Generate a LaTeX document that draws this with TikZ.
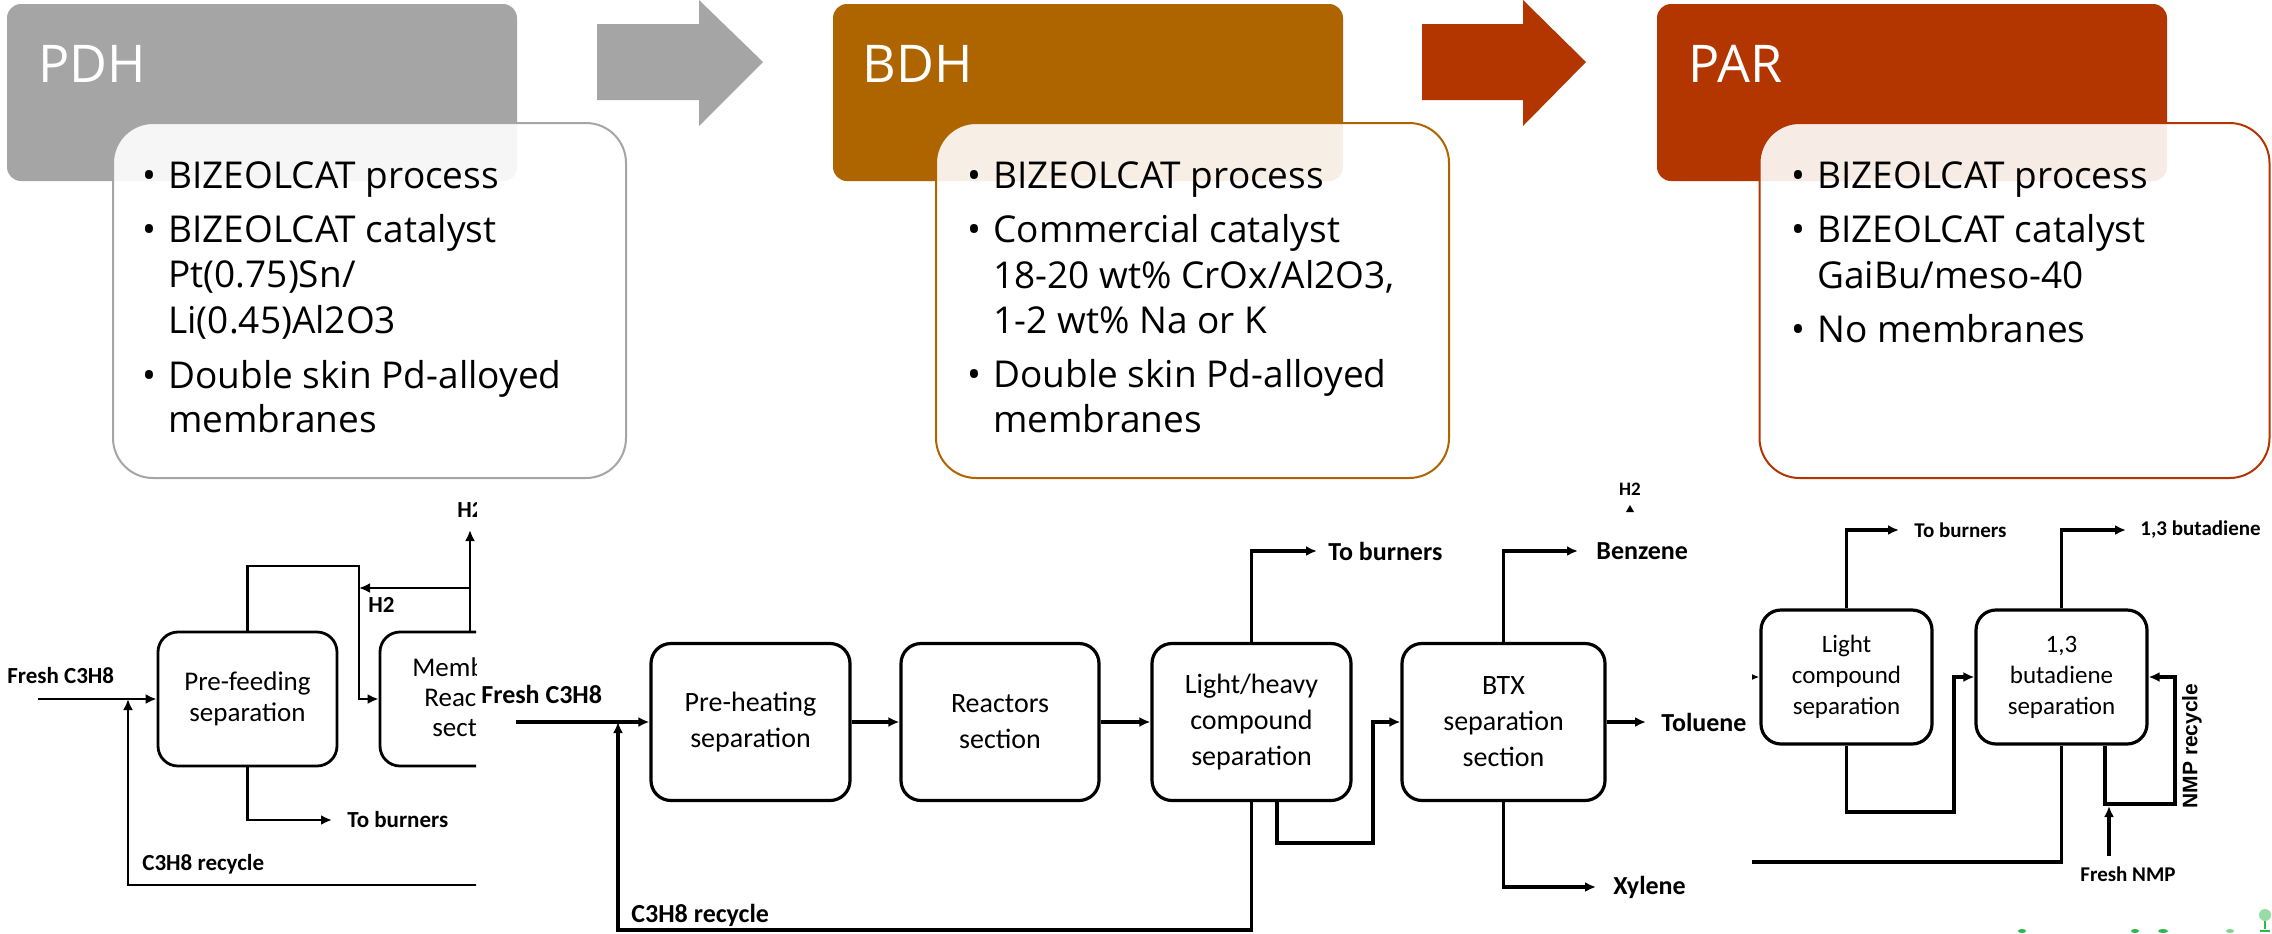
\documentclass[tikz,border=0pt]{standalone}
\usepackage{fontspec}
\setmainfont{Open Sans}
\newfontfamily\calfont{Carlito}
\newfontfamily\arialfont{Liberation Sans}
\usetikzlibrary{arrows.meta}
\definecolor{pdhgray}{HTML}{A5A5A5}
\definecolor{bdhbrown}{HTML}{AE6500}
\definecolor{parred}{HTML}{B33500}
\definecolor{logogreen}{HTML}{2DB84A}
\newcommand\fsoneb{\calfont\fontsize{13.5}{15.5}\selectfont}
\newcommand\fsonel{\calfont\bfseries\fontsize{11.5}{13}\selectfont}
\newcommand\fstwob{\calfont\fontsize{14}{18}\selectfont}
\newcommand\fstwol{\calfont\bfseries\fontsize{13}{15}\selectfont}
\newcommand\fsthrb{\calfont\fontsize{12.5}{15.5}\selectfont}
\newcommand\fsthrl{\calfont\bfseries\fontsize{10.5}{12}\selectfont}
\newcommand\bul{\llap{\textbullet\hspace{6pt}}}
\tikzset{
  hdr/.style={minimum width=255pt, minimum height=88.5pt, rounded corners=7pt, inner sep=0pt},
  cbox/.style={minimum width=256.5pt, minimum height=177.5pt, rounded corners=20pt, fill=white, fill opacity=0.9, line width=1pt, inner sep=0pt},
  hdrtxt/.style={anchor=base west, inner sep=0pt, text=white, font=\fontsize{26}{30}\selectfont},
  txt/.style={anchor=base west, inner sep=0pt, font=\fontsize{18.5}{22}\selectfont},
  fl/.style={line width=1.6pt},
  arr/.style={fl, -{Latex[length=5.5pt,width=5pt]}},
  pbox/.style={draw, line width=1.6pt, rounded corners=10pt, align=center, inner sep=0pt},
  lab/.style={inner sep=0pt},
}
\begin{document}
\begin{tikzpicture}[x=0.5pt,y=-0.5pt]
\useasboundingbox (0,0) rectangle (2272,933);
\fill[white] (0,0) rectangle (2272,933);

% ---------------- top section ----------------
\node[hdr, fill=pdhgray] (pdh) at (262,92.5) {};
\node[hdr, fill=bdhbrown] (bdh) at (1088,92.5) {};
\node[hdr, fill=parred] (par) at (1912,92.5) {};
\fill[pdhgray] (597,24) -- (699,24) -- (699,0) -- (763,62) -- (699,126) -- (699,100) -- (597,100) -- cycle;
\fill[parred] (1422,24) -- (1523,24) -- (1523,0) -- (1586,62) -- (1523,126) -- (1523,100) -- (1422,100) -- cycle;
\node[hdrtxt] (pdht) at (38,82) {PDH};
\node[hdrtxt] (bdht) at (862,82) {BDH};
\node[hdrtxt] (part) at (1688,82) {PAR};

\node[cbox, draw=pdhgray] (pdhbox) at (369.5,300.5) {};
\node[cbox, draw=bdhbrown] (bdhbox) at (1192.5,300.5) {};
\node[cbox, draw=parred, minimum width=255pt] (parbox) at (2014.5,300.5) {};

\node[txt] (p1) at (168,188) {\bul BIZEOLCAT process};
\node[txt] (p2) at (168,242) {\bul BIZEOLCAT catalyst};
\node[txt] (p3) at (168,287) {Pt(0.75)Sn/};
\node[txt] (p4) at (168,333) {Li(0.45)Al2O3};
\node[txt] (p5) at (168,388) {\bul Double skin Pd-alloyed};
\node[txt] (p6) at (168,432) {membranes};

\node[txt] (b1t) at (993,188) {\bul BIZEOLCAT process};
\node[txt] (b2t) at (993,242) {\bul Commercial catalyst};
\node[txt] (b3t) at (993,288) {18-20 wt\% CrOx/Al2O3,};
\node[txt] (b4t) at (993,333) {1-2 wt\% Na or K};
\node[txt] (b5t) at (993,387) {\bul Double skin Pd-alloyed};
\node[txt] (b6t) at (993,432) {membranes};

\node[txt] (r1t) at (1817,188) {\bul BIZEOLCAT process};
\node[txt] (r2t) at (1817,242) {\bul BIZEOLCAT catalyst};
\node[txt] (r3t) at (1817,288) {GaiBu/meso-40};
\node[txt] (r4t) at (1817,342) {\bul No membranes};

% ---------------- flowsheet 1 (PDH) ----------------
\begin{scope}
\clip (0,480) rectangle (476,933);
\tikzset{fl/.style={line width=1.4pt}}
\node[pbox, line width=1.4pt, minimum width=89.5pt, minimum height=67pt, font=\fsoneb] (pf) at (247.5,699) {Pre-feeding\\separation};
\node[pbox, line width=1.4pt, minimum width=82.5pt, minimum height=67pt] (mem) at (462.5,699) {};
\node[lab, font=\fsoneb, anchor=base west] (mem1) at (412,676) {Memb};
\node[lab, font=\fsoneb, anchor=base west] (mem2) at (424,706) {Reac};
\node[lab, font=\fsoneb, anchor=base west] (mem3) at (432,736) {sect};
\coordinate (f1in) at (38,699);
\coordinate (j1) at (128,699);
\coordinate (r1a) at (128,885);
\coordinate (r1b) at (480,885);
\draw[arr] (f1in) -- (pf.west);
\draw[arr] (r1b) -- (r1a) -- (j1);
\node[lab, font=\fsonel, anchor=base west] (fresh1) at (7,683) {Fresh C3H8};
\node[lab, font=\fsonel, anchor=base west] (rec1) at (142,870) {C3H8 recycle};
\coordinate (t1a) at (247.5,566);
\coordinate (t1b) at (359,566);
\draw[arr] (pf.north) -- (t1a) -- (t1b) |- (mem.west);
\coordinate (h2s) at (470,588);
\coordinate (h2e) at (359,588);
\draw[arr] (h2s) -- (h2e);
\node[lab, font=\fsonel, anchor=base west] (h2l) at (368,612) {H2};
\coordinate (h2top) at (470,530);
\draw[arr] (mem.north -| h2top) -- (h2top);
\node[lab, font=\fsonel, anchor=base west] (h2tl) at (457,517) {H2};
\coordinate (tb1) at (332,820);
\draw[arr] (pf.south) |- (tb1);
\node[lab, font=\fsonel, anchor=west] (tb1l) at (347,820) {To burners};
\end{scope}

% ---------------- flowsheet 2 (BDH) ----------------
\node[pbox, minimum width=99.5pt, minimum height=78.5pt, font=\fstwob] (b1) at (750.5,722) {Pre-heating\\separation};
\node[pbox, minimum width=99pt, minimum height=78.5pt, font=\fstwob] (b2) at (1000,722) {Reactors\\section};
\node[pbox, minimum width=99.5pt, minimum height=78.5pt, font=\fstwob] (b3) at (1251.5,722) {Light/heavy\\compound\\separation};
\node[pbox, minimum width=101.5pt, minimum height=78.5pt, font=\fstwob] (btx) at (1503.5,722) {BTX\\separation\\section};
\coordinate (f2in) at (516,722);
\coordinate (j2) at (618,722);
\draw[arr] (f2in) -- (b1.west);
\node[lab, font=\fstwol, anchor=base west] (fresh2) at (481,703) {Fresh C3H8};
\coordinate (r2a) at (1251.5,930);
\coordinate (r2b) at (618,930);
\draw[arr] (b3.south) -- (r2a) -- (r2b) -- (j2);
\node[lab, font=\fstwol, anchor=base west] (rec2) at (631,922) {C3H8 recycle};
\draw[arr] (b1.east) -- (b2.west);
\draw[arr] (b2.east) -- (b3.west);
\coordinate (tb2) at (1317,551);
\draw[arr] (b3.north) |- (tb2);
\node[lab, font=\fstwol, anchor=west] (tb2l) at (1328,551) {To burners};
\coordinate (c3a) at (1277,843);
\coordinate (c3b) at (1373,843);
\draw[arr] (b3.south -| c3a) -- (c3a) -- (c3b) |- (btx.west);
\coordinate (bz) at (1578,551);
\draw[arr] (btx.north) |- (bz);
\node[lab, font=\fstwol, anchor=west] (bzl) at (1596,551) {Benzene};
\coordinate (tol) at (1646,722);
\draw[arr] (btx.east) -- (tol);
\node[lab, font=\fstwol, anchor=west] (toll) at (1661,722) {Toluene};
\coordinate (xy) at (1596,887);
\draw[arr] (btx.south) |- (xy);
\node[lab, font=\fstwol, anchor=west] (xyl) at (1613,887) {Xylene};
\node[lab, font=\calfont\bfseries\fontsize{9.5}{11}\selectfont] (h2b) at (1630,489) {H2};
\fill (1626,512) -- (1630,505) -- (1634,512) -- cycle;

% ---------------- flowsheet 3 (PAR) ----------------
\begin{scope}
\clip (1752,480) rectangle (2272,933);
\node[pbox, minimum width=85.5pt, minimum height=67pt, font=\fsthrb] (lc) at (1846.5,677) {Light\\compound\\separation};
\node[pbox, minimum width=85.5pt, minimum height=67pt, font=\fsthrb] (bd) at (2061.5,677) {1,3\\butadiene\\separation};
\coordinate (lcin) at (1735,677);
\draw[arr] (lcin) -- (lc.west);
\coordinate (tb3) at (1899,530);
\draw[arr] (lc.north) |- (tb3);
\node[lab, font=\fsthrl, anchor=west] (tb3l) at (1914,530) {To burners};
\coordinate (l1) at (1846.5,812);
\coordinate (l2) at (1954,812);
\draw[arr] (lc.south) -- (l1) -- (l2) |- (bd.west);
\coordinate (bu) at (2126,530);
\draw[arr] (bd.north) |- (bu);
\node[lab, font=\fsthrl, anchor=west] (bul) at (2140,530) {1,3 butadiene};
\coordinate (bdo) at (1735,862);
\draw[fl] (bd.south) |- (bdo);
\coordinate (n1) at (2105,804);
\coordinate (n2) at (2175,804);
\draw[arr] (bd.south -| n1) -- (n1) -- (n2) |- (bd.east);
\coordinate (fn) at (2109,856);
\coordinate (fnt) at (2109,806);
\draw[arr] (fn) -- (fnt);
\node[lab, font=\fsthrl] (fnl) at (2128,874) {Fresh NMP};
\node[lab, font=\arialfont\bfseries\fontsize{10.5}{12}\selectfont, rotate=90] (nmpl) at (2192,746) {NMP recycle};
\end{scope}

% small green logo fragment
\fill[logogreen] (2022,931) ellipse (4 and 2);
\fill[logogreen] (2135,931) ellipse (4 and 2);
\fill[logogreen] (2163,931) ellipse (5 and 2);
\fill[logogreen!60] (2230,931) ellipse (4 and 2);
\fill[logogreen!50] (2265,915) circle (6);
\draw[logogreen, line width=1pt] (2265,921) -- (2265,929) (2260,931) -- (2270,931);
\end{tikzpicture}
\end{document}
